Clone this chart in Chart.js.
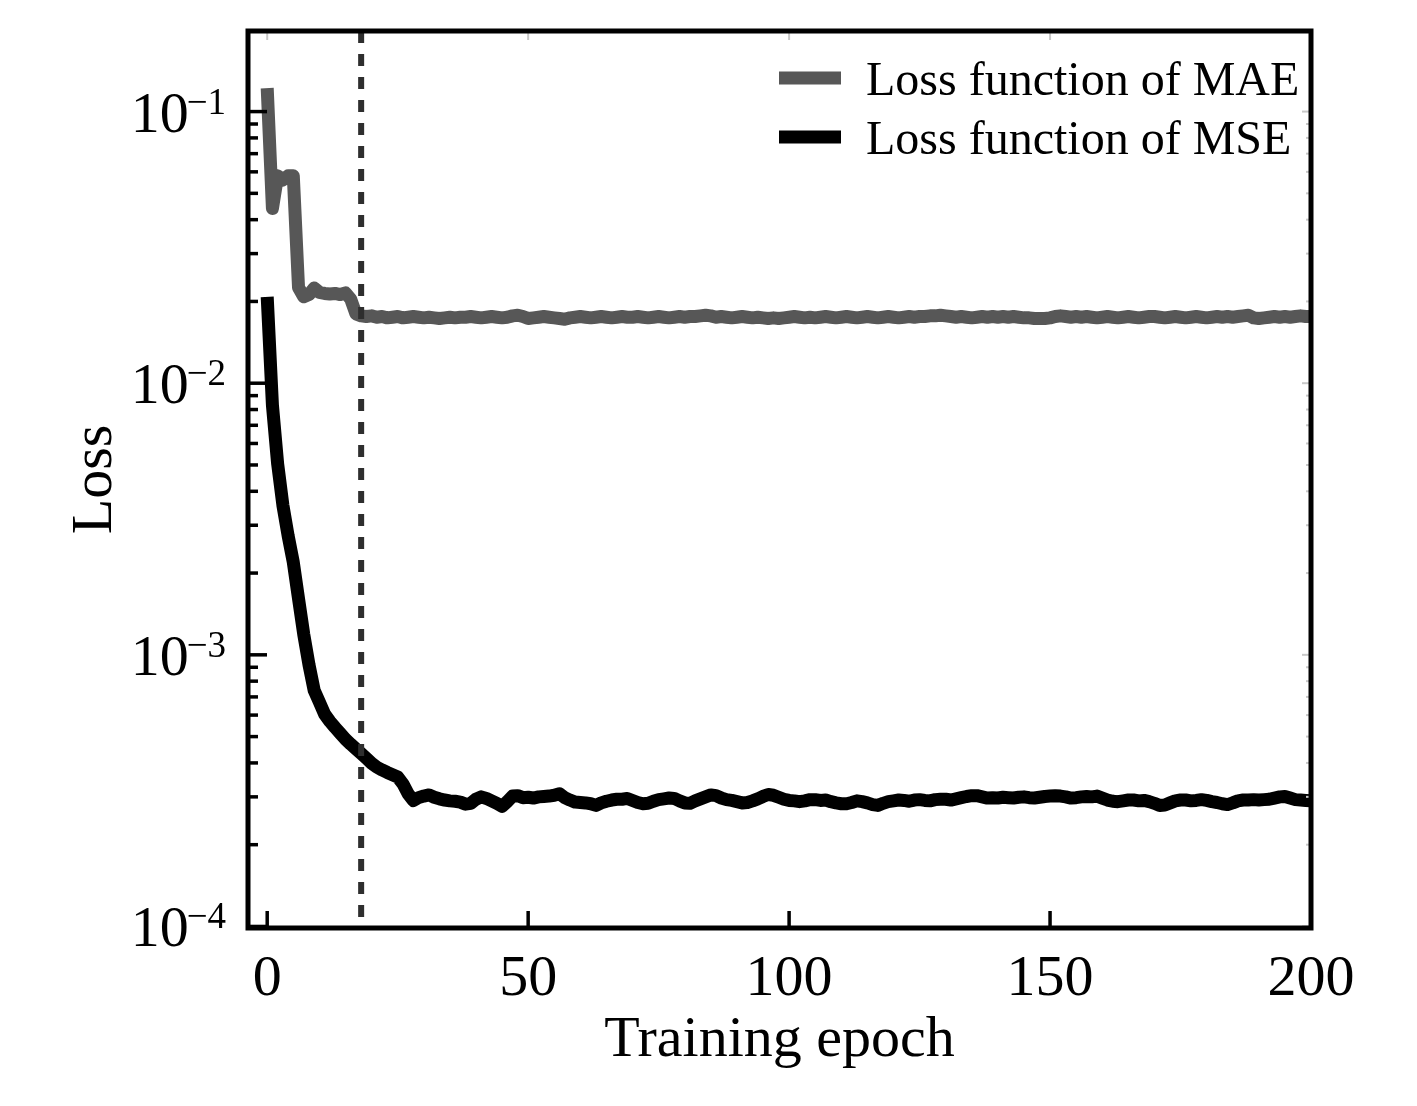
<!DOCTYPE html>
<html>
<head>
<meta charset="utf-8">
<script src="https://cdn.jsdelivr.net/npm/chart.js@4"></script>
<style>
  html, body { margin: 0; padding: 0; background: #fff; }
  #wrap { width: 1417px; height: 1106px; position: relative; }
</style>
</head>
<body>
<div id="wrap"><canvas id="c"></canvas></div>
<script>
// ---------------- data ----------------
const epochs = [
  0,1,2,3,4,5,6,7,8,9,10,11,12,13,14,15,16,17,18,19,
  20,21,22,23,24,25,26,27,28,29,30,31,32,33,34,35,36,37,38,39,
  40,41,42,43,44,45,46,47,48,49,50,51,52,53,54,55,56,57,58,59,
  60,61,62,63,64,65,66,67,68,69,70,71,72,73,74,75,76,77,78,79,
  80,81,82,83,84,85,86,87,88,89,90,91,92,93,94,95,96,97,98,99,
  100,101,102,103,104,105,106,107,108,109,110,111,112,113,114,115,116,117,118,119,
  120,121,122,123,124,125,126,127,128,129,130,131,132,133,134,135,136,137,138,139,
  140,141,142,143,144,145,146,147,148,149,150,151,152,153,154,155,156,157,158,159,
  160,161,162,163,164,165,166,167,168,169,170,171,172,173,174,175,176,177,178,179,
  180,181,182,183,184,185,186,187,188,189,190,191,192,193,194,195,196,197,198,199,
  200
];

const maeLoss = [
  0.122, 0.044, 0.058, 0.056, 0.058, 0.058, 0.0225, 0.0208, 0.0212, 0.0224,
  0.0216, 0.0214, 0.0213, 0.0214, 0.0212, 0.0215, 0.0204, 0.0180, 0.0177, 0.0176,
  0.0177, 0.0175, 0.0176, 0.0174, 0.0175, 0.0176, 0.0174, 0.0175, 0.0176, 0.0175,
  0.0174, 0.0175, 0.0174, 0.0173, 0.0174, 0.0175, 0.0174, 0.0175, 0.0175, 0.0176,
  0.0175, 0.0174, 0.0175, 0.0176, 0.0175, 0.0174, 0.0175, 0.0177, 0.0178, 0.0176,
  0.0173, 0.0174, 0.0175, 0.0176, 0.0175, 0.0174, 0.0173, 0.0172, 0.0174, 0.0175,
  0.0176, 0.0175, 0.0174, 0.0175, 0.0176, 0.0175, 0.0174, 0.0175, 0.0176, 0.0175,
  0.0175, 0.0176, 0.0175, 0.0174, 0.0175, 0.0176, 0.0175, 0.0174, 0.0175, 0.0176,
  0.0175, 0.0176, 0.0176, 0.0177, 0.0178, 0.0177, 0.0175, 0.0176, 0.0175, 0.0174,
  0.0175, 0.0176, 0.0175, 0.0174, 0.0175, 0.0174, 0.0173, 0.0174, 0.0173, 0.0174,
  0.0175, 0.0176, 0.0175, 0.0174, 0.0175, 0.0174, 0.0175, 0.0176, 0.0175, 0.0174,
  0.0175, 0.0176, 0.0175, 0.0174, 0.0175, 0.0176, 0.0175, 0.0174, 0.0175, 0.0176,
  0.0175, 0.0174, 0.0175, 0.0176, 0.0175, 0.0176, 0.0176, 0.0177, 0.0177, 0.0178,
  0.0177, 0.0176, 0.0175, 0.0176, 0.0175, 0.0174, 0.0175, 0.0176, 0.0175, 0.0176,
  0.0175, 0.0176, 0.0175, 0.0176, 0.0175, 0.0174, 0.0174, 0.0173, 0.0173, 0.0173,
  0.0174, 0.0176, 0.0177, 0.0176, 0.0175, 0.0176, 0.0175, 0.0176, 0.0175, 0.0174,
  0.0175, 0.0176, 0.0175, 0.0174, 0.0175, 0.0176, 0.0175, 0.0174, 0.0175, 0.0176,
  0.0176, 0.0175, 0.0174, 0.0175, 0.0176, 0.0175, 0.0174, 0.0175, 0.0176, 0.0175,
  0.0174, 0.0175, 0.0176, 0.0175, 0.0176, 0.0175, 0.0176, 0.0177, 0.0178, 0.0174,
  0.0173, 0.0174, 0.0175, 0.0176, 0.0175, 0.0176, 0.0175, 0.0176, 0.0177, 0.0176,
  0.0176
];

const mseLoss = [
  0.0208, 0.0083, 0.00505, 0.00356, 0.00275, 0.00219, 0.00161, 0.00119, 0.00092, 0.00074,
  0.00067, 0.000605, 0.000569, 0.00054, 0.000514, 0.000489, 0.000469, 0.000451, 0.000433, 0.000416,
  0.000399, 0.000386, 0.000377, 0.000369, 0.000362, 0.000355, 0.000335, 0.000308, 0.000291, 0.000298,
  0.000302, 0.000305, 0.000299, 0.000295, 0.000292, 0.00029, 0.000289, 0.000287, 0.000282, 0.000284,
  0.000294, 0.0003, 0.000296, 0.00029, 0.000284, 0.000277, 0.000288, 0.000302, 0.000303, 0.000298,
  0.000299, 0.000297, 0.0003, 0.000301, 0.000302, 0.000304, 0.000308, 0.000298, 0.000292, 0.000287,
  0.000286, 0.000285, 0.000283, 0.000279, 0.000285, 0.000289, 0.000292, 0.000294, 0.000294, 0.000296,
  0.000291, 0.000286, 0.000283, 0.000284, 0.000289, 0.000293, 0.000295, 0.000297, 0.000296, 0.00029,
  0.000285, 0.000284, 0.00029, 0.000295, 0.0003, 0.000305, 0.000303, 0.000297, 0.000293, 0.000291,
  0.000288, 0.000285, 0.000286, 0.00029, 0.000295, 0.000301, 0.000306, 0.000304, 0.000299, 0.000294,
  0.000291, 0.00029, 0.000288, 0.00029, 0.000293, 0.000293, 0.000291, 0.000292, 0.000288, 0.000285,
  0.000283, 0.000283, 0.000286, 0.00029, 0.000288, 0.000285, 0.000281, 0.000279, 0.000284, 0.000288,
  0.00029, 0.000292, 0.000291, 0.000289, 0.000292, 0.000293, 0.000291, 0.00029, 0.000293, 0.000294,
  0.000294, 0.000292, 0.000295, 0.000298, 0.000301, 0.000303, 0.000303, 0.0003, 0.000297, 0.000298,
  0.000297, 0.000299, 0.000298, 0.000297, 0.000299, 0.0003, 0.000298, 0.000297, 0.000299, 0.000301,
  0.000302, 0.000303, 0.000302, 0.0003, 0.000297, 0.000298, 0.0003, 0.000301, 0.0003, 0.000302,
  0.000297, 0.000292, 0.000289, 0.000288, 0.00029, 0.000292, 0.000292, 0.00029, 0.000291, 0.000288,
  0.000284, 0.000279, 0.00028, 0.000285, 0.00029, 0.000292, 0.000292, 0.00029, 0.000291, 0.000293,
  0.000291, 0.000288, 0.000286, 0.000283, 0.000281, 0.000285, 0.00029, 0.000292, 0.000292, 0.000293,
  0.000292, 0.000293, 0.000294, 0.000297, 0.0003, 0.000301, 0.000297, 0.000293, 0.000292, 0.000291,
  0.00029
];

const seriesLabels = ['Loss function of MAE', 'Loss function of MSE'];
const xTicks = [0, 50, 100, 150, 200];
const yMajorTicks = [1e-1, 1e-2, 1e-3, 1e-4];
const yTickExponents = ['\u22121', '\u22122', '\u22123', '\u22124'];
const yMinorMultipliers = [2, 3, 4, 5, 6, 7, 8, 9];
const dashedEpoch = 18;
const xTitle = 'Training epoch';
const yTitle = 'Loss';

// ---------------- styling ----------------
const FONT = "'Liberation Serif','Times New Roman',Times,serif";
const maeColor = '#575757';
const mseColor = '#000000';
const LINE_W = 13;

const decor = {
  id: 'decor',
  beforeDraw(chart) {
    const ctx = chart.ctx;
    ctx.save();
    ctx.fillStyle = '#ffffff';
    ctx.fillRect(0, 0, chart.width, chart.height);
    ctx.restore();
  },
  afterDatasetsDraw(chart) {
    const { ctx, chartArea: a, scales: { x, y } } = chart;
    ctx.save();

    // dashed vertical marker
    const dx = x.getPixelForValue(dashedEpoch);
    ctx.strokeStyle = '#2e2e2e';
    ctx.lineWidth = 6;
    ctx.setLineDash([12, 11]);
    ctx.beginPath();
    ctx.moveTo(dx, a.top);
    ctx.lineTo(dx, a.bottom);
    ctx.stroke();
    ctx.setLineDash([]);

    // faint mirrored ticks (top / right)
    ctx.strokeStyle = '#c8c8c8';
    ctx.lineWidth = 2;
    xTicks.forEach(v => {
      const px = x.getPixelForValue(v);
      ctx.beginPath(); ctx.moveTo(px, a.top); ctx.lineTo(px, a.top + 9); ctx.stroke();
    });
    yMajorTicks.forEach(d => {
      [1].concat(yMinorMultipliers).forEach(m => {
        const v = d * m;
        if (v < y.min || v > y.max) return;
        const py = y.getPixelForValue(v);
        ctx.beginPath(); ctx.moveTo(a.right - (m === 1 ? 9 : 5), py); ctx.lineTo(a.right, py); ctx.stroke();
      });
    });

    // left y ticks (inward)
    ctx.strokeStyle = '#000';
    ctx.lineWidth = 3.5;
    yMajorTicks.forEach(d => {
      [1].concat(yMinorMultipliers).forEach(m => {
        const v = d * m;
        if (v < y.min || v > y.max) return;
        const py = y.getPixelForValue(v);
        ctx.beginPath(); ctx.moveTo(a.left, py); ctx.lineTo(a.left + (m === 1 ? 19 : 10), py); ctx.stroke();
      });
    });
    // bottom x ticks (inward)
    xTicks.forEach(v => {
      const px = x.getPixelForValue(v);
      ctx.beginPath(); ctx.moveTo(px, a.bottom); ctx.lineTo(px, a.bottom - 17); ctx.stroke();
    });

    // frame
    ctx.lineWidth = 5;
    ctx.strokeStyle = '#000';
    ctx.strokeRect(a.left, a.top, a.right - a.left, a.bottom - a.top);

    // y tick labels with superscripts
    ctx.fillStyle = '#000';
    ctx.textBaseline = 'alphabetic';
    yMajorTicks.forEach((v, i) => {
      const py = y.getPixelForValue(v);
      const rightEdge = a.left - 22;
      ctx.font = `37px ${FONT}`;
      ctx.textAlign = 'right';
      const supW = ctx.measureText(yTickExponents[i]).width;
      ctx.fillText(yTickExponents[i], rightEdge, py + 2);
      ctx.font = `58px ${FONT}`;
      ctx.fillText('10', rightEdge - supW + 2, py + 20);
    });

    // x tick labels
    ctx.font = `58px ${FONT}`;
    ctx.textAlign = 'center';
    xTicks.forEach(v => {
      ctx.fillText(String(v), x.getPixelForValue(v), a.bottom + 67);
    });

    // axis titles
    ctx.fillText(xTitle, (a.left + a.right) / 2, a.bottom + 128);
    ctx.save();
    ctx.translate(a.left - 137, (a.top + a.bottom) / 2);
    ctx.rotate(-Math.PI / 2);
    ctx.fillText(yTitle, 0, 0);
    ctx.restore();

    // legend (inside plot, top right)
    const ds = chart.data.datasets;
    const lx0 = a.right - 532, lx1 = a.right - 470, tx = a.right - 445;
    const rows = [a.top + 47, a.top + 106];
    ds.forEach((d, i) => {
      ctx.strokeStyle = d.borderColor;
      ctx.lineWidth = LINE_W;
      ctx.lineCap = 'butt';
      ctx.beginPath(); ctx.moveTo(lx0, rows[i]); ctx.lineTo(lx1, rows[i]); ctx.stroke();
      ctx.fillStyle = '#000';
      ctx.font = `48px ${FONT}`;
      ctx.textAlign = 'left';
      ctx.fillText(d.label, tx, rows[i] + 17);
    });

    ctx.restore();
  }
};

const toPoints = vals => epochs.map((e, i) => ({ x: e, y: vals[i] }));

new Chart(document.getElementById('c'), {
  type: 'line',
  data: {
    datasets: [
      {
        label: seriesLabels[0],
        data: toPoints(maeLoss),
        borderColor: maeColor,
        borderWidth: LINE_W,
        borderCapStyle: 'butt',
        borderJoinStyle: 'round',
        pointRadius: 0,
        tension: 0,
        fill: false
      },
      {
        label: seriesLabels[1],
        data: toPoints(mseLoss),
        borderColor: mseColor,
        borderWidth: LINE_W,
        borderCapStyle: 'butt',
        borderJoinStyle: 'round',
        pointRadius: 0,
        tension: 0,
        fill: false
      }
    ]
  },
  options: {
    responsive: true,
    maintainAspectRatio: false,
    animation: false,
    devicePixelRatio: 1,
    layout: { padding: { top: 31, right: 106, left: 0, bottom: 0 } },
    plugins: { legend: { display: false }, tooltip: { enabled: false } },
    scales: {
      x: {
        type: 'linear',
        min: -3.68,
        max: 200,
        grid: { display: false },
        border: { display: false },
        ticks: { display: false },
        afterFit: s => { s.height = 178; }
      },
      y: {
        type: 'logarithmic',
        min: 9.87e-5,
        max: 0.198,
        grid: { display: false },
        border: { display: false },
        ticks: { display: false },
        afterFit: s => { s.width = 248; }
      }
    }
  },
  plugins: [decor]
});
</script>
</body>
</html>
